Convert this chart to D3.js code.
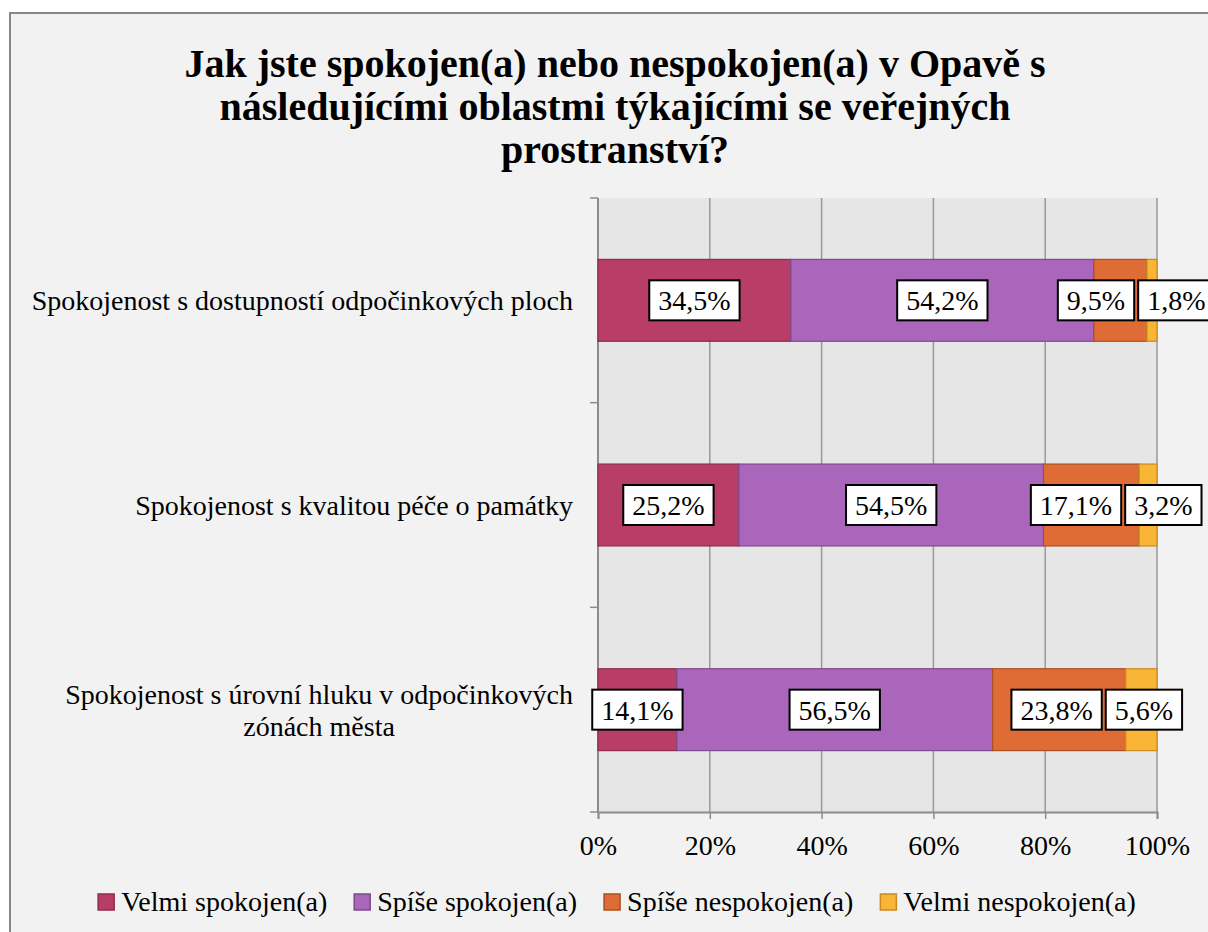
<!DOCTYPE html>
<html>
<head>
<meta charset="utf-8">
<script src="https://cdn.jsdelivr.net/npm/d3@7"></script>
<style>
  body { margin: 0; background: #fff; }
  text { font-family: "Liberation Serif", "DejaVu Serif", serif; fill: #000; }
</style>
</head>
<body>
<div id="chart"></div>
<script>
// chart data
const titleLines = ["Jak jste spokojen(a) nebo nespokojen(a) v Opavě s", "následujícími oblastmi týkajícími se veřejných", "prostranství?"];
const categories = ["Spokojenost s dostupností odpočinkových ploch", "Spokojenost s kvalitou péče o památky", "Spokojenost s úrovní hluku v odpočinkových zónách města"];
const seriesNames = ["Velmi spokojen(a)", "Spíše spokojen(a)", "Spíše nespokojen(a)", "Velmi nespokojen(a)"];
const velmiSpokojen = [34.5, 25.2, 14.1];
const spiseSpokojen = [54.2, 54.5, 56.5];
const spiseNespokojen = [9.5, 17.1, 23.8];
const velmiNespokojen = [1.8, 3.2, 5.6];
const xTicks = [0, 20, 40, 60, 80, 100];

const fills = ["#b83d67", "#a966bb", "#e06c35", "#f9b535"];
const strokes = ["#8e2c4e", "#7e4a8e", "#a9501f", "#c98b1f"];

const width = 1208, height = 932;
const plot = {left: 598, right: 1157, top: 198, bottom: 812};

const rows = categories.map((c, i) => ({
  cat: c,
  s0: velmiSpokojen[i], s1: spiseSpokojen[i], s2: spiseNespokojen[i], s3: velmiNespokojen[i]
}));
const keys = ["s0", "s1", "s2", "s3"];
const stacked = d3.stack().keys(keys)(rows);

const cz = d3.formatLocale({decimal: ",", thousands: " ", grouping: [3], currency: ["", " Kč"]});
const pct = v => cz.format(".1f")(v) + "%";

const svg = d3.select("#chart").append("svg")
  .attr("width", width).attr("height", height);

function place(x, y) { return `translate(${x},${y})`; }

// frame
svg.append("rect").attr("x", 10).attr("y", 13).attr("width", 1230).attr("height", 940)
  .attr("fill", "#f2f2f2").attr("stroke", "#878787").attr("stroke-width", 2);

// title
const title = svg.append("g");
titleLines.forEach((l, i) => {
  title.append("text")
    .attr("transform", place(615, 77 + i * 43))
    .attr("text-anchor", "middle")
    .style("font-size", "40px").style("font-weight", "bold")
    .text(l);
});

const x = d3.scaleLinear().domain([0, 100]).range([plot.left, plot.right]);
const y = d3.scaleBand().domain(categories).range([plot.top, plot.bottom])
  .paddingInner(0.6).paddingOuter(0.3);

// plot area
svg.append("rect").attr("x", plot.left).attr("y", plot.top)
  .attr("width", plot.right - plot.left).attr("height", plot.bottom - plot.top)
  .attr("fill", "#e6e6e6");

// gridlines
svg.append("g").selectAll("line").data(xTicks.slice(1)).join("line")
  .attr("x1", d => x(d)).attr("x2", d => x(d))
  .attr("y1", plot.top).attr("y2", plot.bottom)
  .attr("stroke", "#999").attr("stroke-width", 1.5);

// x axis
const xAxis = svg.append("g").attr("transform", `translate(0,${plot.bottom})`)
  .call(d3.axisBottom(x).tickValues(xTicks).tickSize(7).tickFormat(d => d + "%"));
xAxis.select(".domain").attr("stroke", "#8c8c8c").attr("stroke-width", 2);
xAxis.selectAll(".tick line").attr("stroke", "#8c8c8c").attr("stroke-width", 1.5);
xAxis.selectAll(".tick text").remove();
xAxis.selectAll(".tick").append("text")
  .attr("transform", place(0, 43))
  .attr("text-anchor", "middle")
  .style("font-size", "28px")
  .text(d => d + "%");

// y axis line + ticks at band edges
const yEdges = categories.map(c => y(c) - y.step() * 0.3).concat([plot.bottom]);
svg.append("line").attr("x1", plot.left).attr("x2", plot.left)
  .attr("y1", plot.top).attr("y2", plot.bottom)
  .attr("stroke", "#8c8c8c").attr("stroke-width", 2);
svg.append("g").selectAll("line").data(yEdges).join("line")
  .attr("x1", plot.left - 8).attr("x2", plot.left)
  .attr("y1", d => d).attr("y2", d => d)
  .attr("stroke", "#8c8c8c").attr("stroke-width", 1.5);

// category labels (wrapped)
const catG = svg.append("g");
const maxW = 560, lineH = 32;
categories.forEach(c => {
  const cy = y(c) + y.bandwidth() / 2;
  const probe = catG.append("text").style("font-size", "28px");
  const words = c.split(" ");
  const lines = [];
  let cur = "";
  words.forEach(w => {
    const t = cur ? cur + " " + w : w;
    probe.text(t);
    if (probe.node().getComputedTextLength() > maxW && cur) {
      lines.push(cur); cur = w;
    } else cur = t;
  });
  lines.push(cur);
  const widths = lines.map(l => { probe.text(l); return probe.node().getComputedTextLength(); });
  probe.remove();
  const blockW = d3.max(widths);
  const cx = 573 - blockW / 2;
  lines.forEach((l, i) => {
    catG.append("text")
      .attr("transform", place(cx, cy + (i - (lines.length - 1) / 2) * lineH + 10))
      .attr("text-anchor", "middle")
      .style("font-size", "28px")
      .text(l);
  });
});

// bars
const barG = svg.append("g");
stacked.forEach((s, si) => {
  barG.append("g").selectAll("rect").data(s).join("rect")
    .attr("x", d => x(d[0])).attr("y", d => y(d.data.cat))
    .attr("width", d => x(d[1]) - x(d[0])).attr("height", y.bandwidth())
    .attr("fill", fills[si]).attr("stroke", strokes[si]).attr("stroke-width", 1.2);
});

// data labels in white boxes, spread apart when they collide
const labG = svg.append("g");
const pad = 9, boxH = 40, gap = 4;
rows.forEach((r, ri) => {
  const cy = y(r.cat) + y.bandwidth() / 2;
  const labs = stacked.map(s => {
    const d = s[ri];
    const t = labG.append("text").style("font-size", "28px").text(pct(d[1] - d[0]));
    const w = t.node().getComputedTextLength() + pad * 2;
    return {node: t, cx: x((d[0] + d[1]) / 2), w: w};
  });
  for (let i = 0; i < labs.length - 1; i++) {
    const a = labs[i], b = labs[i + 1];
    const over = (a.cx + a.w / 2 + gap) - (b.cx - b.w / 2);
    if (over > 0) { a.cx -= over / 2; b.cx += over / 2; }
  }
  labs.forEach(l => {
    labG.insert("rect", () => l.node.node())
      .attr("x", l.cx - l.w / 2).attr("y", cy - boxH / 2)
      .attr("width", l.w).attr("height", boxH)
      .attr("fill", "#fff").attr("stroke", "#000").attr("stroke-width", 2);
    l.node.attr("transform", place(l.cx, cy + 10)).attr("text-anchor", "middle");
  });
});

// legend
const legG = svg.append("g");
const items = seriesNames.map((n, i) => {
  const t = legG.append("text").style("font-size", "28px").text(n);
  return {t: t, w: t.node().getComputedTextLength(), i: i};
});
const sq = 16, sqGap = 7, itemGap = 27;
const total = d3.sum(items, d => sq + sqGap + d.w) + itemGap * (items.length - 1);
let lx = 617 - total / 2;
const ly = 902;
items.forEach(it => {
  legG.append("rect").attr("x", lx).attr("y", ly - sq / 2).attr("width", sq).attr("height", sq)
    .attr("fill", fills[it.i]).attr("stroke", strokes[it.i]).attr("stroke-width", 1.5);
  it.t.attr("transform", place(lx + sq + sqGap, ly + 9));
  lx += sq + sqGap + it.w + itemGap;
});
</script>
</body>
</html>
